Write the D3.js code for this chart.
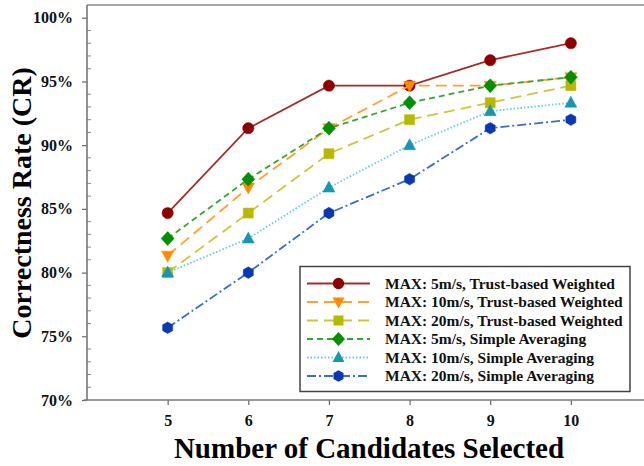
<!DOCTYPE html>
<html>
<head>
<meta charset="utf-8">
<script src="https://cdn.jsdelivr.net/npm/d3@7"></script>
<style>
  html, body { margin: 0; padding: 0; background: #fff; }
  svg { display: block; font-family: "Liberation Serif", "Times New Roman", serif; }
</style>
</head>
<body>
<svg id="chart" width="644" height="466"></svg>
<script>
// candidates selected (x)
const candidates = [5, 6, 7, 8, 9, 10];

// correctness rate (%) per series
const maxSpeed5Weighted  = [84.67, 91.33, 94.67, 94.67, 96.67, 98.0];
const maxSpeed10Weighted = [81.33, 86.67, 91.33, 94.67, 94.67, 95.33];
const maxSpeed20Weighted = [80.0, 84.67, 89.33, 92.0, 93.33, 94.67];
const maxSpeed5Average   = [82.67, 87.33, 91.33, 93.33, 94.67, 95.33];
const maxSpeed10Average  = [80.0, 82.67, 86.67, 90.0, 92.67, 93.33];
const maxSpeed20Average  = [75.67, 80.0, 84.67, 87.33, 91.33, 92.0];

const seriesNames = [
  "MAX: 5m/s, Trust-based Weighted",
  "MAX: 10m/s, Trust-based Weighted",
  "MAX: 20m/s, Trust-based Weighted",
  "MAX: 5m/s, Simple Averaging",
  "MAX: 10m/s, Simple Averaging",
  "MAX: 20m/s, Simple Averaging"
];

const yTickValues = [70, 75, 80, 85, 90, 95, 100];

// styles per series (line colour, marker colour, dash, marker)
const styles = [
  { line: "#a82a2a", fill: "#8b0000", dash: null,        marker: "circle" },
  { line: "#ffa033", fill: "#ff8a00", dash: "11,6",      marker: "triangleDown" },
  { line: "#c8c83a", fill: "#b8b800", dash: "11,6",      marker: "square" },
  { line: "#2fa82f", fill: "#009000", dash: "6,4",       marker: "diamond" },
  { line: "#5ccfe0", fill: "#1896b0", dash: "1.5,2",     marker: "triangle" },
  { line: "#3a6cd0", fill: "#0a38b0", dash: "9,3,2,3",   marker: "hexagon" }
];

const data = [maxSpeed5Weighted, maxSpeed10Weighted, maxSpeed20Weighted,
              maxSpeed5Average, maxSpeed10Average, maxSpeed20Average]
  .map((vals, i) => ({ name: seriesNames[i], style: styles[i],
    points: candidates.map((c, j) => ({ x: c, y: vals[j] })) }));

const svg = d3.select("#chart");
const plot = { left: 87, top: 5, bottom: 400, right: 651.5 };

const x = d3.scaleLinear().domain([4, 11]).range([plot.left, plot.right]);
const y = d3.scaleLinear().domain([70, 101]).range([plot.bottom, plot.top]);

// marker paths
function markerPath(type) {
  if (type === "circle") return d3.symbol(d3.symbolCircle, 100)();
  if (type === "square") return "M-5,-5H5V5H-5Z";
  if (type === "diamond") return "M0,-7L6.5,0L0,7L-6.5,0Z";
  if (type === "triangle") return "M0,-6.5L6,4.5L-6,4.5Z";
  if (type === "triangleDown") return "M0,6.5L6,-4.5L-6,-4.5Z";
  if (type === "hexagon") {
    const pts = d3.range(6).map(k => {
      const a = Math.PI / 6 + k * Math.PI / 3;
      return [5.8 * Math.cos(a), 5.8 * Math.sin(a)];
    });
    return "M" + pts.map(p => p.join(",")).join("L") + "Z";
  }
}

// frame
svg.append("line").attr("x1", plot.left).attr("x2", 660).attr("y1", plot.top).attr("y2", plot.top)
  .attr("stroke", "#888").attr("stroke-width", 1.5);

// y axis: major ticks outward, minor ticks inward
const yAxis = svg.append("g").attr("transform", `translate(${plot.left},0)`)
  .call(d3.axisLeft(y).tickValues(yTickValues).tickSize(5).tickPadding(9)
    .tickFormat(d => d + "%"));
yAxis.select(".domain").remove();
yAxis.selectAll(".tick line").attr("stroke", "#666").attr("stroke-width", 1.2);
yAxis.selectAll("text").attr("font-size", 16).attr("font-weight", "bold")
  .attr("fill", "#111").attr("font-family", "Liberation Serif");
svg.append("g").selectAll("line")
  .data(d3.range(71, 101, 1).filter(v => v % 5 !== 0))
  .join("line")
  .attr("x1", plot.left).attr("x2", plot.left + 4)
  .attr("y1", d => y(d)).attr("y2", d => y(d))
  .attr("stroke", "#888").attr("stroke-width", 1);
svg.append("line").attr("x1", plot.left).attr("x2", plot.left).attr("y1", plot.top).attr("y2", plot.bottom)
  .attr("stroke", "#777").attr("stroke-width", 1.6);

// x axis
const xAxis = svg.append("g").attr("transform", `translate(0,${plot.bottom})`)
  .call(d3.axisBottom(x).tickValues(candidates).tickSize(5).tickPadding(10)
    .tickFormat(d3.format("d")));
xAxis.select(".domain").remove();
xAxis.selectAll(".tick line").attr("stroke", "#666").attr("stroke-width", 1.2);
xAxis.selectAll("text").attr("font-size", 16).attr("font-weight", "bold")
  .attr("fill", "#111").attr("font-family", "Liberation Serif");
svg.append("line").attr("x1", plot.left - 3).attr("x2", 660).attr("y1", plot.bottom).attr("y2", plot.bottom)
  .attr("stroke", "#777").attr("stroke-width", 1.6);

// axis titles
svg.append("text").attr("x", 369).attr("y", 458).attr("text-anchor", "middle")
  .attr("font-size", 29).attr("font-weight", "bold").attr("fill", "#000")
  .text("Number of Candidates Selected");
svg.append("text").attr("transform", "translate(31,203) rotate(-90)")
  .attr("text-anchor", "middle").attr("font-size", 28).attr("font-weight", "bold")
  .attr("fill", "#000").text("Correctness Rate (CR)");

// lines
const line = d3.line().x(d => x(d.x)).y(d => y(d.y));
const series = svg.append("g").selectAll("g").data(data).join("g");
series.append("path")
  .attr("d", d => line(d.points))
  .attr("fill", "none")
  .attr("stroke", d => d.style.line)
  .attr("stroke-width", 1.8)
  .attr("stroke-dasharray", d => d.style.dash);
series.selectAll(".pt").data(d => d.points.map(p => ({ p, s: d.style })))
  .join("path").attr("class", "pt")
  .attr("transform", d => `translate(${x(d.p.x)},${y(d.p.y)})`)
  .attr("d", d => markerPath(d.s.marker))
  .attr("fill", d => d.s.fill)
  .attr("stroke", d => d.s.fill).attr("stroke-opacity", 0.5).attr("stroke-width", 1);

// legend
const lg = svg.append("g");
lg.append("rect").attr("x", 300).attr("y", 266.5).attr("width", 330).attr("height", 125)
  .attr("fill", "#fff").attr("stroke", "#444").attr("stroke-width", 1.5);
const rows = lg.selectAll(".row").data(data).join("g").attr("class", "row")
  .attr("transform", (d, i) => `translate(0,${283.5 + i * 18.5})`);
rows.append("line").attr("x1", 307).attr("x2", 370).attr("y1", 0).attr("y2", 0)
  .attr("stroke", d => d.style.line).attr("stroke-width", 1.8)
  .attr("stroke-dasharray", d => d.style.dash);
rows.append("path").attr("transform", "translate(338.5,0)")
  .attr("d", d => markerPath(d.style.marker)).attr("fill", d => d.style.fill);
rows.append("text").attr("x", 385).attr("y", 5).attr("font-size", 15.5)
  .attr("font-weight", "bold").attr("fill", "#111").text(d => d.name);
</script>
</body>
</html>
